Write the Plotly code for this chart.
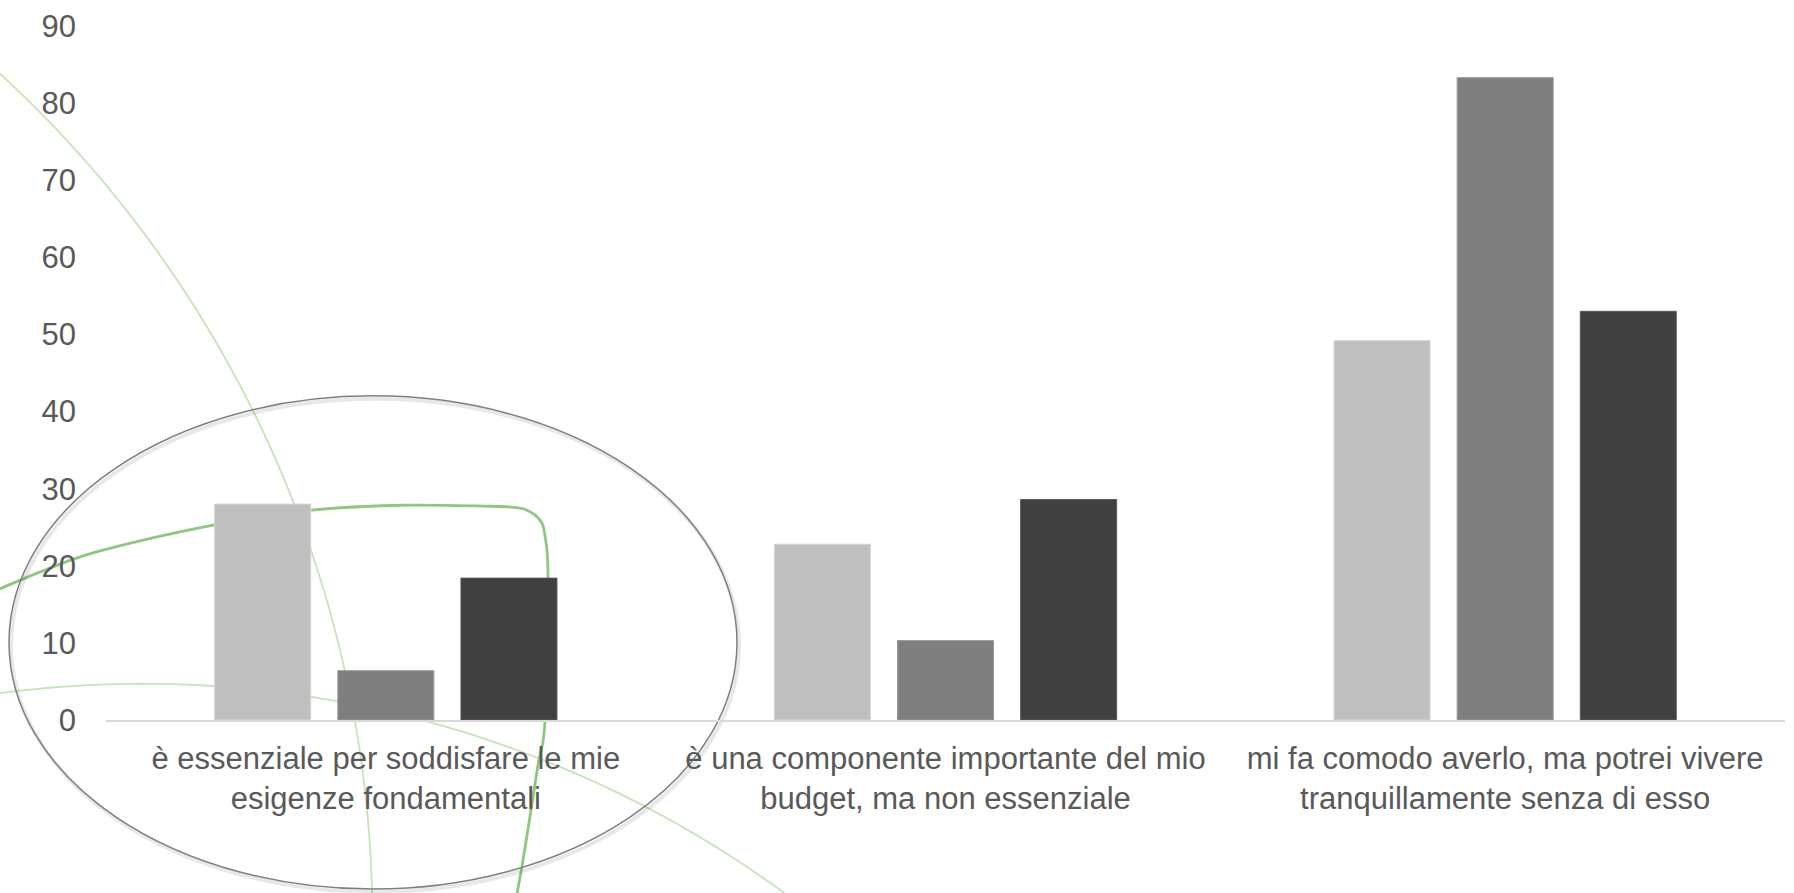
import math
import plotly.graph_objects as go

# ---------------- data ----------------
categories = [
    "è essenziale per soddisfare le mie<br>esigenze fondamentali",
    "è una componente importante del mio<br>budget, ma non essenziale",
    "mi fa comodo averlo, ma potrei vivere<br>tranquillamente senza di esso",
]
series_1 = [28.0, 22.8, 49.2]
series_2 = [6.4, 10.3, 83.3]
series_3 = [18.4, 28.6, 53.0]
y_ticks = [0, 10, 20, 30, 40, 50, 60, 70, 80, 90]

# ---------------- figure geometry ----------------
W, H = 1794, 893
ML, MR, MT, MB = 106, 9, 22, 173
PW = W - ML - MR
PH = H - MT - MB


def px(x):
    return (x - ML) / PW


def py(y):
    return (H - MB - y) / PH


def smooth_path(pts):
    """Catmull-Rom spline through pixel points -> SVG path in paper coords."""
    p = [(px(a), py(b)) for a, b in pts]
    d = "M {:.5f},{:.5f}".format(*p[0])
    for i in range(len(p) - 1):
        p0 = p[i - 1] if i > 0 else p[i]
        p1 = p[i]
        p2 = p[i + 1]
        p3 = p[i + 2] if i + 2 < len(p) else p[i + 1]
        c1 = (p1[0] + (p2[0] - p0[0]) / 6, p1[1] + (p2[1] - p0[1]) / 6)
        c2 = (p2[0] - (p3[0] - p1[0]) / 6, p2[1] - (p3[1] - p1[1]) / 6)
        d += " C {:.5f},{:.5f} {:.5f},{:.5f} {:.5f},{:.5f}".format(*c1, *c2, *p2)
    return d


def arc_path(a, b, c, ext=0.06, n=80):
    """Circular arc (pixel space) through three points, extended a little at both ends."""
    (x1, y1), (x2, y2), (x3, y3) = a, b, c
    d = 2 * (x1 * (y2 - y3) + x2 * (y3 - y1) + x3 * (y1 - y2))
    ux = ((x1**2 + y1**2) * (y2 - y3) + (x2**2 + y2**2) * (y3 - y1) + (x3**2 + y3**2) * (y1 - y2)) / d
    uy = ((x1**2 + y1**2) * (x3 - x2) + (x2**2 + y2**2) * (x1 - x3) + (x3**2 + y3**2) * (x2 - x1)) / d
    r = math.hypot(x1 - ux, y1 - uy)
    t1 = math.atan2(y1 - uy, x1 - ux)
    t3 = math.atan2(y3 - uy, x3 - ux)
    if t3 - t1 > math.pi:
        t3 -= 2 * math.pi
    elif t1 - t3 > math.pi:
        t3 += 2 * math.pi
    span = t3 - t1
    ts = [t1 - ext * span + (1 + 2 * ext) * span * k / n for k in range(n + 1)]
    pts = [(ux + r * math.cos(t), uy + r * math.sin(t)) for t in ts]
    return "M " + " L ".join("{:.5f},{:.5f}".format(px(x), py(y)) for x, y in pts)


fig = go.Figure()
colors = ["#BFBFBF", "#7F7F7F", "#404040"]
edges = ["#D6D6D6", "#9A9A9A", "#5A5A5A"]
for vals, c, e in zip([series_1, series_2, series_3], colors, edges):
    fig.add_trace(go.Bar(x=categories, y=vals, marker=dict(color=c, line=dict(color=e, width=1)),
                         hoverinfo="y"))

# ---------------- decorative shapes ----------------
light_green = "#C6E3B9"
mid_green = "#8CC97E"
line_b = [(-10, 592), (0, 588), (43, 570), (100, 550), (213, 524), (312, 509), (402, 504),
          (490, 505), (512, 506), (527, 509), (540, 519), (545, 535), (548, 577),
          (545, 721), (538, 765), (530, 817), (522, 867), (515, 905)]

shapes = [
    dict(type="path", xref="paper", yref="paper",
         path=arc_path((0, 70), (252, 407), (372, 893), ext=0.08),
         line=dict(color=light_green, width=1.8), layer="below"),
    dict(type="path", xref="paper", yref="paper",
         path=arc_path((0, 693), (550, 763), (783, 893), ext=0.05),
         line=dict(color=light_green, width=1.8), layer="below"),
    dict(type="path", xref="paper", yref="paper", path=smooth_path(line_b),
         line=dict(color=mid_green, width=2.8), layer="below"),
]

# ellipse with soft shadow
ex0, ex1, ey0, ey1 = 9, 737, 394, 890
shapes.append(dict(type="circle", xref="paper", yref="paper",
                   x0=px(ex0 + 2), x1=px(ex1 + 2), y0=py(ey1 + 3), y1=py(ey0 + 3),
                   line=dict(color="rgba(0,0,0,0.09)", width=4), layer="below"))
shapes.append(dict(type="circle", xref="paper", yref="paper",
                   x0=px(ex0), x1=px(ex1), y0=py(ey1), y1=py(ey0),
                   line=dict(color="#7F7F7F", width=1.5), layer="below"))

fig.update_layout(
    width=W, height=H,
    margin=dict(l=ML, r=MR, t=MT, b=MB, pad=0),
    paper_bgcolor="white",
    plot_bgcolor="rgba(0,0,0,0)",
    barmode="group",
    bargap=0.34,
    bargroupgap=0.22,
    showlegend=False,
    font=dict(family="Liberation Sans, Arial, sans-serif", size=31, color="#595959"),
    shapes=shapes,
)
fig.update_yaxes(range=[0, 90], tickvals=y_ticks, showgrid=False, zeroline=False,
                 showline=False, ticks="", ticklabelstandoff=29,
                 tickfont=dict(size=31, color="#595959"))
fig.update_xaxes(showgrid=False, showline=True, linecolor="#D9D9D9", linewidth=1.5,
                 ticks="", ticklabelstandoff=10, tickfont=dict(size=31, color="#595959"))

fig.write_html("out.html", config={"displayModeBar": False},
               post_script="document.body.style.margin='0';")
